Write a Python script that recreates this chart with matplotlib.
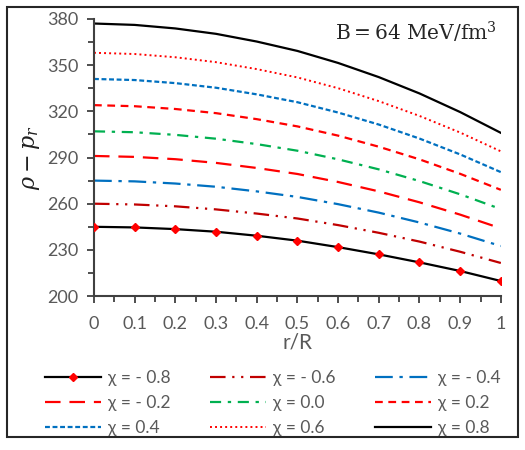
import matplotlib
matplotlib.use("Agg")
import matplotlib.pyplot as plt
from matplotlib.patches import Rectangle

r_R = [0, 0.1, 0.2, 0.3, 0.4, 0.5, 0.6, 0.7, 0.8, 0.9, 1.0]

chi_m08 = [245, 244.6, 243.5, 241.8, 239.2, 236, 231.8, 227.1, 221.9, 216.3, 209.8]
chi_m06 = [260, 259.5, 258.3, 256.3, 253.6, 250.4, 246.1, 241.1, 235.4, 228.8, 221.5]
chi_m04 = [275, 274.5, 273.1, 271, 268, 264.4, 259.7, 254.2, 247.8, 240.6, 232.5]
chi_m02 = [291, 290.4, 288.9, 286.5, 283.2, 279.3, 274.1, 268, 260.9, 252.9, 244]
chi_00 = [307, 306.4, 304.7, 302.2, 298.7, 294.4, 288.8, 282.3, 274.7, 266.1, 256.5]
chi_02 = [324, 323.3, 321.5, 318.8, 314.9, 310.2, 304.2, 297, 288.8, 279.4, 269]
chi_04 = [341, 340.3, 338.3, 335.3, 331, 325.9, 319.2, 311.4, 302.3, 292, 280.5]
chi_06 = [358, 357.2, 355.1, 351.9, 347.4, 342, 335, 326.6, 317, 306.2, 294]
chi_08 = [377, 376.1, 373.8, 370.3, 365.3, 359.2, 351.4, 342.2, 331.6, 319.5, 306]

labels = ["χ = - 0.8", "χ = - 0.6", "χ = - 0.4",
          "χ = - 0.2", "χ = 0.0", "χ = 0.2",
          "χ = 0.4", "χ = 0.6", "χ = 0.8"]

x_ticks = [0, 0.1, 0.2, 0.3, 0.4, 0.5, 0.6, 0.7, 0.8, 0.9, 1.0]
x_ticklabels = ["0", "0.1", "0.2", "0.3", "0.4", "0.5", "0.6",
                "0.7", "0.8", "0.9", "1"]
x_minor = [0.05, 0.15, 0.25, 0.35, 0.45, 0.55, 0.65, 0.75, 0.85, 0.95]
y_ticks = [200, 230, 260, 290, 320, 350, 380]
y_minor = [215, 245, 275, 305, 335, 365]

plt.rcParams["font.family"] = ["Lato", "DejaVu Sans"]
GRAY = "#595959"

fig = plt.figure(figsize=(5.25, 4.5), dpi=100)
ax = fig.add_axes([0.179, 0.342, 0.775, 0.616])

# -------------------------
# curves
# -------------------------
lines = []
lines.append(ax.plot(r_R, chi_m08, color="black", lw=1.6, marker="D",
                     markersize=4.5, markerfacecolor="#FF0000",
                     markeredgecolor="#FF0000", zorder=5)[0])
lines.append(ax.plot(r_R, chi_m06, color="#C00000", lw=1.6,
                     dashes=(7, 3, 1, 3, 1, 3))[0])
lines.append(ax.plot(r_R, chi_m04, color="#0070C0", lw=1.6,
                     dashes=(8, 3, 1.5, 3))[0])
lines.append(ax.plot(r_R, chi_m02, color="#FF0000", lw=1.6,
                     dashes=(7, 4))[0])
lines.append(ax.plot(r_R, chi_00, color="#00B050", lw=1.6,
                     dashes=(5, 3, 1.5, 3))[0])
lines.append(ax.plot(r_R, chi_02, color="#FF0000", lw=1.6,
                     dashes=(3.5, 2.5))[0])
lines.append(ax.plot(r_R, chi_04, color="#0070C0", lw=1.6,
                     dashes=(2.2, 1.2))[0])
lines.append(ax.plot(r_R, chi_06, color="#FF0000", lw=1.4,
                     dashes=(1, 1.6))[0])
lines.append(ax.plot(r_R, chi_08, color="black", lw=1.6)[0])

# -------------------------
# axes
# -------------------------
ax.set_xlim(0, 1)
ax.set_ylim(200, 380)
ax.set_xticks(x_ticks)
ax.set_xticklabels(x_ticklabels)
ax.set_xticks(x_minor, minor=True)
ax.set_yticks(y_ticks)
ax.set_yticks(y_minor, minor=True)

for side in ["top", "right"]:
    ax.spines[side].set_visible(False)
for side in ["left", "bottom"]:
    ax.spines[side].set_color("#404040")
    ax.spines[side].set_linewidth(1.5)

ax.tick_params(which="both", direction="out", color="#404040", width=1.3,
               labelcolor=GRAY, labelsize=13)
ax.tick_params(which="major", length=5)
ax.tick_params(which="minor", length=4)
ax.tick_params(axis="x", which="major", pad=9)
ax.tick_params(axis="y", which="major", pad=6)

ax.set_xlabel("r/R", color=GRAY, fontsize=15, labelpad=1)
ax.set_ylabel(r"$\rho - p_r$", fontsize=16, labelpad=4, color="#202020",
              math_fontfamily="dejavuserif")

ax.text(0.99, 0.995, r"$\mathrm{B = 64\ MeV/fm^3}$", transform=ax.transAxes,
        ha="right", va="top", fontsize=14.5, color="#262626",
        math_fontfamily="dejavuserif")

# legend: row-wise order in the picture, matplotlib fills column-wise
order = [0, 3, 6, 1, 4, 7, 2, 5, 8]
leg = fig.legend([lines[i] for i in order], [labels[i] for i in order],
                 loc="upper center", bbox_to_anchor=(0.52, 0.212),
                 ncol=3, frameon=False, fontsize=12.5, handlelength=3.2,
                 columnspacing=2.3, handletextpad=0.4, labelspacing=0.5)
for t in leg.get_texts():
    t.set_color(GRAY)

# border around the figure
fig.patches.append(Rectangle((0.014, 0.03), 0.972, 0.955,
                             transform=fig.transFigure, fill=False,
                             edgecolor="#262626", lw=1.5))

fig.savefig("out.png", dpi=100)
